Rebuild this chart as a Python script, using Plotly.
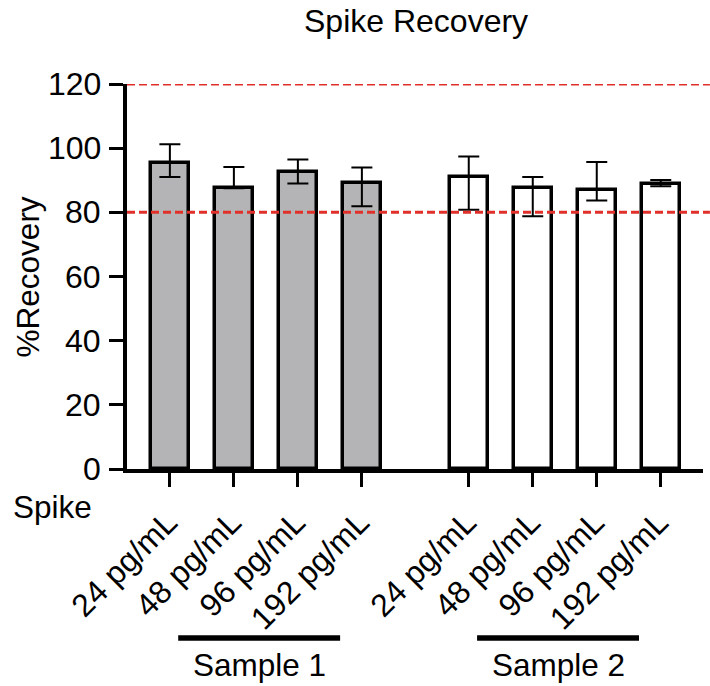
import plotly.graph_objects as go

# ---- data ----
spikes = ["24 pg/mL", "48 pg/mL", "96 pg/mL", "192 pg/mL"]
samples = ["Sample 1", "Sample 2"]
recovery_s1 = [95.3, 87.5, 92.7, 89.0]
err_up_s1 = [5.9, 6.6, 3.8, 5.0]
err_down_s1 = [4.3, 0.0, 3.7, 7.1]
recovery_s2 = [91.1, 87.6, 87.1, 88.8]
err_up_s2 = [6.3, 3.4, 8.6, 1.3]
err_down_s2 = [10.3, 8.8, 3.4, 0.7]
y_ticks = [0, 20, 40, 60, 80, 100, 120]
ref_lines = [80, 120]

# ---- layout helpers ----
GROUP_STEP = 4.67
FONT = "Liberation Sans, Arial, sans-serif"
x_s1 = [i for i in range(len(spikes))]
x_s2 = [i + GROUP_STEP for i in range(len(spikes))]

fig = go.Figure()
fig.add_trace(go.Bar(
    x=x_s1, y=recovery_s1, width=0.59,
    marker=dict(color="#b4b4b6", line=dict(color="black", width=3.5)),
    error_y=dict(type="data", symmetric=False, array=err_up_s1, arrayminus=err_down_s1,
                 color="black", thickness=2, width=10.5),
    showlegend=False,
))
fig.add_trace(go.Bar(
    x=x_s2, y=recovery_s2, width=0.59,
    marker=dict(color="white", line=dict(color="black", width=3.5)),
    error_y=dict(type="data", symmetric=False, array=err_up_s2, arrayminus=err_down_s2,
                 color="black", thickness=2, width=10.5),
    showlegend=False,
))

for v in ref_lines:
    fig.add_shape(type="line", xref="paper", yref="y", x0=0, x1=1.012, y0=v, y1=v,
                  line=dict(color="#e0302a", width=3, dash="8px,4px"), layer="above")

# y tick labels (placed close to the ticks)
for v in y_ticks:
    fig.add_annotation(x=-0.041, y=v, xref="paper", yref="y", text=str(v),
                       showarrow=False, xanchor="right", yanchor="middle",
                       font=dict(size=32, color="black", family=FONT))

# group underlines and labels
for g, name in enumerate(samples):
    base = g * GROUP_STEP
    fig.add_shape(type="line", xref="x", yref="paper", x0=base + 0.13, x1=base + 2.66,
                  y0=-0.439, y1=-0.439, line=dict(color="black", width=5.5))
    fig.add_annotation(x=base + 1.4, y=-0.509, xref="x", yref="paper", text=name,
                       showarrow=False, xanchor="center", yanchor="middle",
                       font=dict(size=31.5, color="black", family=FONT))

fig.add_annotation(x=-0.13, y=-0.099, xref="paper", yref="paper", text="Spike",
                   showarrow=False, xanchor="center", yanchor="middle",
                   font=dict(size=31.5, color="black", family=FONT))
fig.add_annotation(x=-0.172, y=0.5, xref="paper", yref="paper", text="%Recovery",
                   showarrow=False, xanchor="center", yanchor="middle", textangle=-90,
                   font=dict(size=31.5, color="black", family=FONT))

fig.update_layout(
    width=710, height=686,
    margin=dict(l=127, r=7, t=84, b=217),
    paper_bgcolor="white", plot_bgcolor="white",
    font=dict(family=FONT, size=32, color="black"),
    title=dict(text="Spike Recovery", x=0.586, xanchor="center", y=0.969, yanchor="middle",
               font=dict(size=32, family=FONT, color="black")),
    bargap=0,
)
fig.update_xaxes(
    range=[-0.67, 8.33], tickmode="array", tickvals=x_s1 + x_s2, ticktext=spikes + spikes,
    tickangle=-45, ticks="outside", ticklen=14, tickwidth=3, tickcolor="black",
    ticklabelshift=-2, ticklabelstandoff=4,
    showline=True, linewidth=3.5, linecolor="black", showgrid=False, zeroline=False,
    tickfont=dict(size=32, family=FONT, color="black"),
)
fig.update_yaxes(
    range=[0, 120], tickmode="array", tickvals=y_ticks, showticklabels=False,
    ticks="outside", ticklen=14, tickwidth=3, tickcolor="black",
    showline=True, linewidth=3.5, linecolor="black", showgrid=False, zeroline=False,
)

fig.write_html("out.html", config={"displayModeBar": False},
               post_script="document.body.style.margin='0px';")
